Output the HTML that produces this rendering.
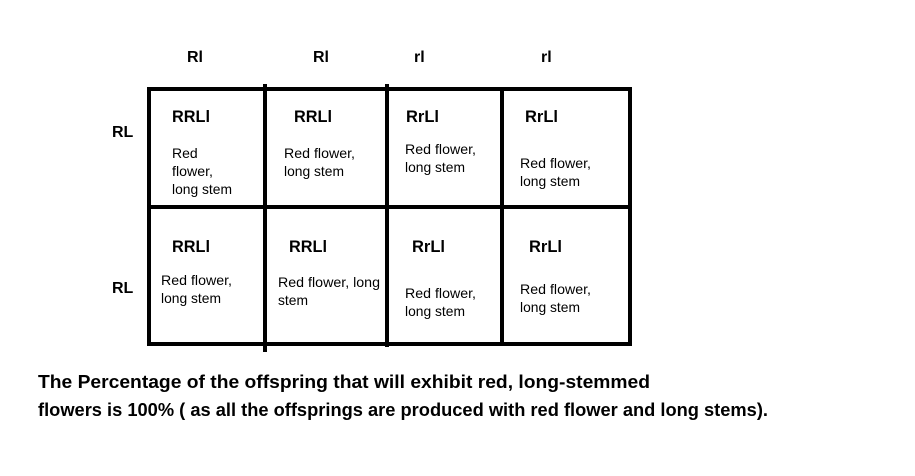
<!DOCTYPE html>
<html><head><style>html,body{margin:0;padding:0;background:#fff;width:915px;height:476px;overflow:hidden}</style></head>
<body>
<svg width="915" height="476" xmlns="http://www.w3.org/2000/svg" font-family="'Liberation Sans', sans-serif" fill="#000">
<g stroke="#000" stroke-width="4" fill="none">
<rect x="149" y="89" width="481" height="255"/>
<line x1="149" y1="207" x2="630" y2="207"/>
<line x1="265" y1="84" x2="265" y2="352"/>
<line x1="387" y1="84" x2="387" y2="347"/>
<line x1="502" y1="89" x2="502" y2="344"/>
</g>
<g font-weight="bold" font-size="16">
<text x="187" y="62">Rl</text><text x="313" y="62">Rl</text><text x="414" y="62">rl</text><text x="541" y="62">rl</text>
<text x="112" y="137">RL</text><text x="112" y="293">RL</text>
</g>
<g font-size="17" font-weight="bold" lengthAdjust="spacingAndGlyphs">
<text x="172" y="122" textLength="38" lengthAdjust="spacingAndGlyphs">RRLl</text><text x="294" y="122" textLength="38" lengthAdjust="spacingAndGlyphs">RRLl</text>
<text x="406" y="122" textLength="33" lengthAdjust="spacingAndGlyphs">RrLl</text><text x="525" y="122" textLength="33" lengthAdjust="spacingAndGlyphs">RrLl</text>
<text x="172" y="252" textLength="38" lengthAdjust="spacingAndGlyphs">RRLl</text><text x="289" y="252" textLength="38" lengthAdjust="spacingAndGlyphs">RRLl</text>
<text x="412" y="252" textLength="33" lengthAdjust="spacingAndGlyphs">RrLl</text><text x="529" y="252" textLength="33" lengthAdjust="spacingAndGlyphs">RrLl</text>
</g>
<g font-size="14">
<text x="172" y="158">Red</text><text x="172" y="176" textLength="41" lengthAdjust="spacingAndGlyphs">flower,</text><text x="172" y="194" textLength="60" lengthAdjust="spacingAndGlyphs">long stem</text>
<text x="284" y="158" textLength="71" lengthAdjust="spacingAndGlyphs">Red flower,</text><text x="284" y="176" textLength="60" lengthAdjust="spacingAndGlyphs">long stem</text>
<text x="405" y="154" textLength="71" lengthAdjust="spacingAndGlyphs">Red flower,</text><text x="405" y="172" textLength="60" lengthAdjust="spacingAndGlyphs">long stem</text>
<text x="520" y="168" textLength="71" lengthAdjust="spacingAndGlyphs">Red flower,</text><text x="520" y="186" textLength="60" lengthAdjust="spacingAndGlyphs">long stem</text>
<text x="161" y="285" textLength="71" lengthAdjust="spacingAndGlyphs">Red flower,</text><text x="161" y="303" textLength="60" lengthAdjust="spacingAndGlyphs">long stem</text>
<text x="278" y="287" textLength="102" lengthAdjust="spacingAndGlyphs">Red flower, long</text><text x="278" y="305" textLength="30" lengthAdjust="spacingAndGlyphs">stem</text>
<text x="405" y="298" textLength="71" lengthAdjust="spacingAndGlyphs">Red flower,</text><text x="405" y="316" textLength="60" lengthAdjust="spacingAndGlyphs">long stem</text>
<text x="520" y="294" textLength="71" lengthAdjust="spacingAndGlyphs">Red flower,</text><text x="520" y="312" textLength="60" lengthAdjust="spacingAndGlyphs">long stem</text>
</g>
<g font-size="18" font-weight="bold">
<text x="38" y="388" textLength="612" lengthAdjust="spacingAndGlyphs">The Percentage of the offspring that will exhibit red, long-stemmed</text>
<text x="38" y="416" textLength="730" lengthAdjust="spacingAndGlyphs">flowers is 100% ( as all the offsprings are produced with red flower and long stems).</text>
</g>
</svg>
</body></html>
